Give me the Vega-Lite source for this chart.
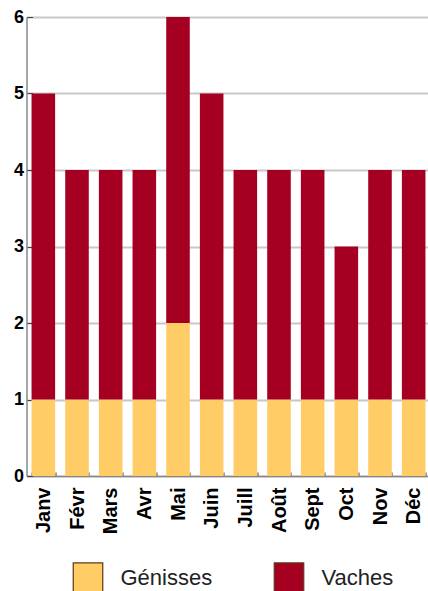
{
  "$schema": "https://vega.github.io/schema/vega-lite/v6.json",
  "autosize": "none",
  "padding": {"left": 26.5, "top": 17, "right": 0, "bottom": 115},
  "width": 404,
  "height": 459,
  "background": "white",
  "data": {
    "values": [
      {"mois": "Janv", "type": "Génisses", "n": 1},
      {"mois": "Janv", "type": "Vaches", "n": 4},
      {"mois": "Févr", "type": "Génisses", "n": 1},
      {"mois": "Févr", "type": "Vaches", "n": 3},
      {"mois": "Mars", "type": "Génisses", "n": 1},
      {"mois": "Mars", "type": "Vaches", "n": 3},
      {"mois": "Avr", "type": "Génisses", "n": 1},
      {"mois": "Avr", "type": "Vaches", "n": 3},
      {"mois": "Mai", "type": "Génisses", "n": 2},
      {"mois": "Mai", "type": "Vaches", "n": 4},
      {"mois": "Juin", "type": "Génisses", "n": 1},
      {"mois": "Juin", "type": "Vaches", "n": 4},
      {"mois": "Juill", "type": "Génisses", "n": 1},
      {"mois": "Juill", "type": "Vaches", "n": 3},
      {"mois": "Août", "type": "Génisses", "n": 1},
      {"mois": "Août", "type": "Vaches", "n": 3},
      {"mois": "Sept", "type": "Génisses", "n": 1},
      {"mois": "Sept", "type": "Vaches", "n": 3},
      {"mois": "Oct", "type": "Génisses", "n": 1},
      {"mois": "Oct", "type": "Vaches", "n": 2},
      {"mois": "Nov", "type": "Génisses", "n": 1},
      {"mois": "Nov", "type": "Vaches", "n": 3},
      {"mois": "Déc", "type": "Génisses", "n": 1},
      {"mois": "Déc", "type": "Vaches", "n": 3}
    ]
  },
  "mark": {"type": "bar"},
  "encoding": {
    "x": {
      "field": "mois",
      "type": "nominal",
      "sort": ["Janv", "Févr", "Mars", "Avr", "Mai", "Juin", "Juill", "Août", "Sept", "Oct", "Nov", "Déc"],
      "scale": {"paddingInner": 0.3, "paddingOuter": 0.15},
      "axis": {
        "title": null,
        "labelAngle": -90,
        "labelAlign": "right",
        "labelBaseline": "middle",
        "labelFont": "Liberation Sans",
        "labelFontWeight": "bold",
        "labelFontSize": 20,
        "labelColor": "black",
        "labelPadding": 15,
        "tickBand": "extent",
        "tickSize": -4,
        "tickColor": "#444",
        "domainColor": "#888",
        "domainWidth": 1.5,
        "grid": false
      }
    },
    "y": {
      "field": "n",
      "type": "quantitative",
      "aggregate": "sum",
      "stack": "zero",
      "scale": {"domain": [0, 6], "nice": false},
      "axis": {
        "title": null,
        "values": [0, 1, 2, 3, 4, 5, 6],
        "labelFont": "Liberation Sans",
        "labelFontWeight": "bold",
        "labelFontSize": 18,
        "labelColor": "black",
        "labelPadding": 9,
        "tickSize": -6,
        "tickColor": "#444",
        "domainColor": "#888",
        "domainWidth": 1.5,
        "gridColor": "#c8c8c8",
        "gridWidth": 2
      }
    },
    "order": {"field": "type", "sort": "ascending"},
    "color": {
      "field": "type",
      "type": "nominal",
      "scale": {"domain": ["Génisses", "Vaches"], "range": ["#FFCC66", "#A50021"]},
      "legend": {
        "title": null,
        "orient": "none",
        "legendX": 46,
        "legendY": 545,
        "direction": "horizontal",
        "columns": 2,
        "columnPadding": 59,
        "symbolType": "square",
        "symbolSize": 870,
        "symbolOpacity": 1,
        "symbolStrokeColor": "#5b3a1a",
        "symbolStrokeWidth": 1.2,
        "labelFont": "Liberation Sans",
        "labelFontSize": 22,
        "labelColor": "#222",
        "labelOffset": 17,
        "padding": 0
      }
    }
  },
  "config": {"view": {"stroke": null}}
}
